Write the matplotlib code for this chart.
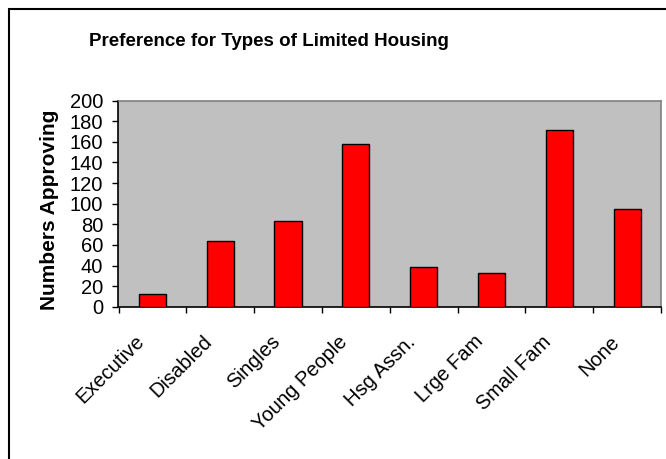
import numpy as np
import matplotlib
matplotlib.use('Agg')
import matplotlib.pyplot as plt
from matplotlib.patches import Rectangle
from matplotlib.transforms import ScaledTranslation

categories = ['Executive', 'Disabled', 'Singles', 'Young People', 'Hsg Assn.',
              'Lrge Fam', 'Small Fam', 'None']
approving = [12, 64, 83, 158, 39, 33, 172, 95]

plt.rcParams['font.family'] = ['Liberation Sans', 'DejaVu Sans']

W, H = 666, 459
fig = plt.figure(figsize=(W / 100, H / 100), dpi=100)
# outer chart frame (right and bottom edges fall outside the picture)
fig.patches.append(Rectangle((9 / W, -0.05), 1.1, 1 - 9 / H + 0.05, transform=fig.transFigure,
                             fill=False, edgecolor='black', linewidth=1.5))

ax = fig.add_axes([118.5 / W, 1 - 306.7 / H, (661 - 118.5) / W, (306.7 - 100.7) / H])
ax.set_facecolor('#C0C0C0')

x = np.arange(len(categories))
ax.bar(x, approving, width=0.4, color='#FF0000', edgecolor='black', linewidth=1.0, zorder=3)

ax.set_xlim(-0.5, len(categories) - 0.5)
ax.set_ylim(0, 200)
ax.set_yticks(range(0, 201, 20))
ax.set_xticks(np.arange(-0.5, len(categories), 1.0))
ax.set_xticklabels([])
ax.set_xticks(x, minor=True)
ax.set_xticklabels(categories, minor=True, rotation=45, ha='right', va='center',
                   rotation_mode='anchor', fontsize=14.5)
ax.tick_params(axis='x', which='minor', length=0, pad=23)
ax.tick_params(axis='x', which='major', length=4, width=1, direction='out')
ax.tick_params(axis='y', length=4, width=1, direction='out', labelsize=14.5, pad=7)
shift = ScaledTranslation(-0.11, 0, fig.dpi_scale_trans)
for lab in ax.get_xticklabels(minor=True):
    lab.set_transform(lab.get_transform() + shift)

for s in ['top', 'right']:
    ax.spines[s].set_color('#808080')
    ax.spines[s].set_linewidth(1.2)
for s in ['left', 'bottom']:
    ax.spines[s].set_color('black')
    ax.spines[s].set_linewidth(1.2)

ax.set_ylabel('Numbers Approving', fontsize=15, fontweight='bold')
ax.yaxis.set_label_coords(-0.11, 0.47)
fig.text(268.5 / W, 1 - 41 / H, 'Preference for Types of Limited Housing', ha='center', va='center',
         fontsize=13.5, fontweight='bold')

fig.savefig('out.png', dpi=100)
